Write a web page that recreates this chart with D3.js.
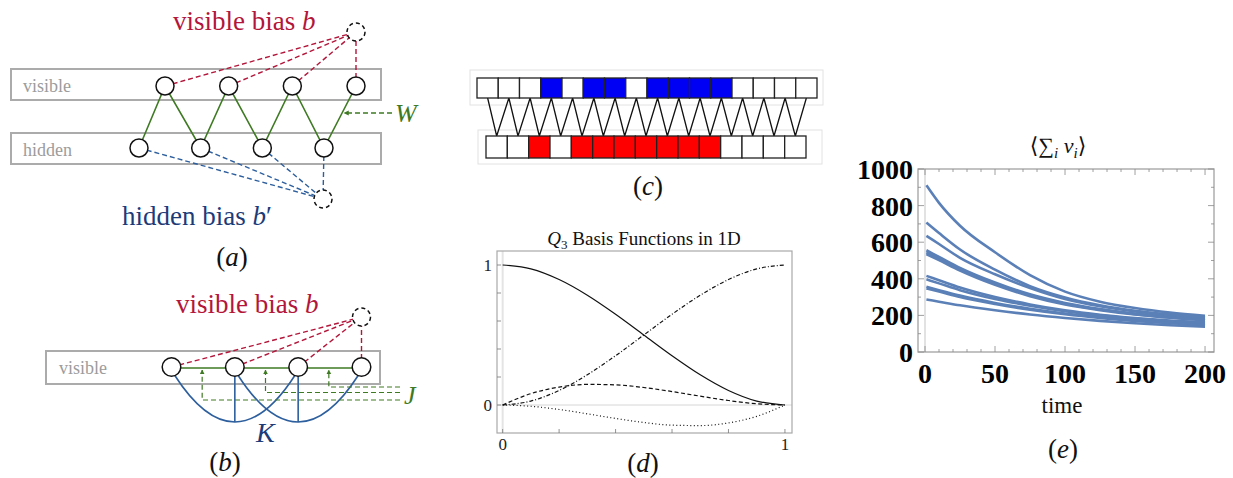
<!DOCTYPE html>
<html>
<head>
<meta charset="utf-8">
<script src="https://cdn.jsdelivr.net/npm/d3@7"></script>
<style>
body { margin: 0; background: #fff; }
svg { display: block; }
text { font-family: "Liberation Serif", "DejaVu Serif", serif; }
</style>
</head>
<body>
<svg id="fig" width="1233" height="478"></svg>
<script>
// ---- data ----
// (a) RBM: 4 visible, 4 hidden units
const rbmVisible = [0, 1, 2, 3];
const rbmHidden = [0, 1, 2, 3];
// (b) visible chain with J (neighbours) and K (next neighbours)
const chainNodes = [0, 1, 2, 3];
const jLinks = [[0, 1], [1, 2], [2, 3]];
const kLinks = [[0, 2], [1, 3]];
// (c) spin rows, 1 = occupied
const topRow = [0, 0, 0, 1, 0, 1, 1, 0, 1, 1, 1, 1, 0, 0, 0, 0];
const bottomRow = [0, 0, 1, 0, 1, 1, 1, 1, 1, 1, 1, 0, 0, 0, 0];
// (d) Q3 basis functions read at x = 0, 0.1, ... 1
const basisX = [0, 0.1, 0.2, 0.3, 0.4, 0.5, 0.6, 0.7, 0.8, 0.9, 1];
const basisSolid = [1, 0.972, 0.896, 0.784, 0.648, 0.5, 0.352, 0.216, 0.104, 0.028, 0];
const basisDashDot = [0, 0.028, 0.104, 0.216, 0.352, 0.5, 0.648, 0.784, 0.896, 0.972, 1];
const basisDashed = [0, 0.081, 0.128, 0.147, 0.144, 0.125, 0.096, 0.063, 0.032, 0.009, 0];
const basisDotted = [0, -0.009, -0.032, -0.063, -0.096, -0.125, -0.144, -0.147, -0.128, -0.081, 0];
const dTickLabels = [0, 1];
// (e) <sum v_i> vs time, 11 runs
const times = [1, 10, 25, 50, 75, 100, 125, 150, 175, 200];
const sumVRuns = [
  [911, 815, 690, 545, 420, 330, 275, 240, 215, 198],
  [707, 650, 560, 450, 360, 298, 255, 225, 205, 190],
  [635, 590, 515, 425, 350, 290, 250, 222, 202, 186],
  [556, 520, 460, 380, 315, 268, 235, 210, 192, 178],
  [545, 510, 452, 373, 310, 264, 232, 207, 189, 175],
  [535, 502, 445, 367, 305, 260, 229, 205, 187, 173],
  [416, 392, 352, 300, 260, 228, 204, 186, 172, 162],
  [397, 375, 338, 290, 253, 223, 200, 182, 168, 158],
  [356, 338, 308, 268, 236, 210, 190, 173, 160, 150],
  [347, 330, 300, 262, 231, 206, 186, 170, 157, 147],
  [287, 275, 255, 228, 205, 186, 170, 157, 146, 138]
];
const eTicksX = [0, 50, 100, 150, 200];
const eTicksY = [0, 200, 400, 600, 800, 1000];

// ---- style ----
const RED = '#b3163a';
const BLUE_TXT = '#1c3b78';
const BLUE_LN = '#2d5f9e';
const GREEN = '#3e7a22';
const GREY = '#ababab';
const CURVE = '#5b80b8';

const svg = d3.select('#fig');

svg.append('defs').append('marker')
  .attr('id', 'arr')
  .attr('viewBox', '0 0 10 10')
  .attr('refX', 9).attr('refY', 5)
  .attr('markerWidth', 4).attr('markerHeight', 4)
  .attr('orient', 'auto-start-reverse')
  .append('path')
  .attr('d', 'M0,0 L10,5 L0,10 z')
  .attr('fill', GREEN);

function caption(g, x, y, letter) {
  const t = g.append('text').attr('x', x).attr('y', y)
    .attr('text-anchor', 'middle').attr('font-size', 27).attr('fill', '#111');
  t.append('tspan').text('(');
  t.append('tspan').attr('font-style', 'italic').text(letter);
  t.append('tspan').text(')');
}

function biasLabel(g, x, y, word, color, prime) {
  const t = g.append('text').attr('x', x).attr('y', y)
    .attr('font-size', 27).attr('fill', color);
  t.append('tspan').text(word + ' bias ');
  t.append('tspan').attr('font-style', 'italic').text('b');
  if (prime) t.append('tspan').text('\u2032');
}

/* ================= (a) ================= */
const ga = svg.append('g');
const xVis = d3.scaleLinear().domain([0, 3]).range([165, 356]);
const xHid = d3.scaleLinear().domain([0, 3]).range([139, 324]);
const yLayer = d3.scaleOrdinal().domain(['vb', 'vis', 'hid', 'hb']).range([32, 86, 148, 199]);

[['vis', 'visible', 69], ['hid', 'hidden', 133]].forEach(([k, name, top]) => {
  ga.append('rect').attr('x', 11).attr('y', top).attr('width', 370).attr('height', 31)
    .attr('fill', 'none').attr('stroke', GREY).attr('stroke-width', 2);
  ga.append('text').attr('x', 23).attr('y', top + 23).attr('font-size', 18)
    .attr('fill', '#9c9c9c').text(name);
});

const vbA = [xVis(3), yLayer('vb')];
const hbA = [xHid(3) - 1, yLayer('hb')];

ga.selectAll('.rb').data(rbmVisible).join('line')
  .attr('x1', d => xVis(d)).attr('y1', yLayer('vis'))
  .attr('x2', vbA[0]).attr('y2', vbA[1])
  .attr('stroke', RED).attr('stroke-width', 1.4).attr('stroke-dasharray', '5,3');
ga.selectAll('.hbl').data(rbmHidden).join('line')
  .attr('x1', d => xHid(d)).attr('y1', yLayer('hid'))
  .attr('x2', hbA[0]).attr('y2', hbA[1])
  .attr('stroke', BLUE_LN).attr('stroke-width', 1.4).attr('stroke-dasharray', '5,3');

// zigzag weights W
const zig = [];
rbmHidden.forEach(i => {
  zig.push([xHid(i), yLayer('hid')]);
  zig.push([xVis(i), yLayer('vis')]);
});
ga.append('path').attr('d', d3.line()(zig))
  .attr('fill', 'none').attr('stroke', GREEN).attr('stroke-width', 1.6);

ga.selectAll('.vn').data(rbmVisible).join('circle')
  .attr('cx', d => xVis(d)).attr('cy', yLayer('vis')).attr('r', 9)
  .attr('fill', '#fff').attr('stroke', '#111').attr('stroke-width', 1.5);
ga.selectAll('.hn').data(rbmHidden).join('circle')
  .attr('cx', d => xHid(d)).attr('cy', yLayer('hid')).attr('r', 9)
  .attr('fill', '#fff').attr('stroke', '#111').attr('stroke-width', 1.5);
[vbA, hbA].forEach(p => ga.append('circle').attr('cx', p[0]).attr('cy', p[1]).attr('r', 9)
  .attr('fill', '#fff').attr('stroke', '#111').attr('stroke-width', 1.5).attr('stroke-dasharray', '4,3'));

// W pointer
const wY = 113;
const wX = xVis(3) + (xHid(3) - xVis(3)) * (wY - yLayer('vis')) / (yLayer('hid') - yLayer('vis'));
ga.append('line').attr('x1', 392).attr('y1', wY).attr('x2', wX + 2).attr('y2', wY)
  .attr('stroke', GREEN).attr('stroke-width', 1.3).attr('stroke-dasharray', '5,3')
  .attr('marker-end', 'url(#arr)');
ga.append('text').attr('x', 395).attr('y', wY + 9).attr('font-size', 26)
  .attr('font-style', 'italic').attr('fill', GREEN).text('W');

biasLabel(ga, 173, 30, 'visible', RED, false);
biasLabel(ga, 122, 225, 'hidden', BLUE_TXT, true);
caption(ga, 232, 266, 'a');

/* ================= (b) ================= */
const gb = svg.append('g');
const xB = d3.scaleLinear().domain([0, 3]).range([171.5, 361.5]);
const yB = 367;
const vbB = [xB(3), 317];

gb.append('rect').attr('x', 46).attr('y', 351).attr('width', 334).attr('height', 33)
  .attr('fill', 'none').attr('stroke', GREY).attr('stroke-width', 2);
gb.append('text').attr('x', 59).attr('y', 374).attr('font-size', 18)
  .attr('fill', '#9c9c9c').text('visible');

gb.selectAll('.rb').data(chainNodes).join('line')
  .attr('x1', d => xB(d)).attr('y1', yB).attr('x2', vbB[0]).attr('y2', vbB[1])
  .attr('stroke', RED).attr('stroke-width', 1.4).attr('stroke-dasharray', '5,3');

// K arcs (parabolic) and stems
kLinks.forEach(([a, b]) => {
  const x0 = xB(a) + 3, x1 = xB(b) - 3, xm = xB((a + b) / 2), yb = 422, y0 = yB + 8;
  const p = d3.path();
  p.moveTo(x0, y0);
  p.quadraticCurveTo(xm, 2 * yb - y0, x1, y0);
  gb.append('path').attr('d', p.toString()).attr('fill', 'none')
    .attr('stroke', BLUE_LN).attr('stroke-width', 1.6);
  gb.append('line').attr('x1', xm).attr('y1', yB).attr('x2', xm).attr('y2', yb)
    .attr('stroke', BLUE_LN).attr('stroke-width', 1.6);
});

// J links
jLinks.forEach(([a, b]) => {
  gb.append('line').attr('x1', xB(a)).attr('y1', yB + 1).attr('x2', xB(b)).attr('y2', yB + 1)
    .attr('stroke', GREEN).attr('stroke-width', 1.6);
});
const jDepth = [400, 392.5, 387];
jLinks.forEach(([a, b], i) => {
  const xm = (xB(a) + xB(b)) / 2 - 1;
  gb.append('path').attr('d', `M400,${jDepth[i]} H${xm} V${yB + 3}`)
    .attr('fill', 'none').attr('stroke', GREEN).attr('stroke-width', 1.2)
    .attr('stroke-dasharray', '5,3').attr('marker-end', 'url(#arr)');
});

gb.selectAll('.n').data(chainNodes).join('circle')
  .attr('cx', d => xB(d)).attr('cy', yB).attr('r', 9.3)
  .attr('fill', '#fff').attr('stroke', '#111').attr('stroke-width', 1.5);
gb.append('circle').attr('cx', vbB[0]).attr('cy', vbB[1]).attr('r', 9)
  .attr('fill', '#fff').attr('stroke', '#111').attr('stroke-width', 1.5).attr('stroke-dasharray', '4,3');

gb.append('text').attr('x', 404).attr('y', 404).attr('font-size', 26)
  .attr('font-style', 'italic').attr('fill', GREEN).text('J');
gb.append('text').attr('x', 256).attr('y', 442).attr('font-size', 28)
  .attr('font-style', 'italic').attr('fill', BLUE_TXT).text('K');
biasLabel(gb, 176, 313, 'visible', RED, false);
caption(gb, 225, 471, 'b');

/* ================= (c) ================= */
const gc = svg.append('g');
const xTop = d3.scaleBand().domain(d3.range(topRow.length)).range([477, 817]);
const xBot = d3.scaleBand().domain(d3.range(bottomRow.length)).range([486, 806]);
const topY = [78, 98], botY = [136, 158];

gc.append('rect').attr('x', 470).attr('y', 70).attr('width', 353).attr('height', 35)
  .attr('fill', 'none').attr('stroke', '#e2e2e2').attr('stroke-width', 1);
gc.append('rect').attr('x', 478).attr('y', 130).attr('width', 344).attr('height', 34)
  .attr('fill', 'none').attr('stroke', '#e2e2e2').attr('stroke-width', 1);

const cz = [];
bottomRow.forEach((_, i) => {
  cz.push([xTop(i) + xTop.bandwidth() / 2, topY[1]]);
  cz.push([xBot(i) + xBot.bandwidth() / 2, botY[0]]);
});
cz.push([xTop(topRow.length - 1) + xTop.bandwidth() / 2, topY[1]]);
gc.append('path').attr('d', d3.line()(cz)).attr('fill', 'none')
  .attr('stroke', '#111').attr('stroke-width', 1.3);

gc.selectAll('.t').data(topRow).join('rect')
  .attr('x', (d, i) => xTop(i)).attr('y', topY[0])
  .attr('width', xTop.bandwidth()).attr('height', topY[1] - topY[0])
  .attr('fill', d => d ? '#0000f5' : '#fff').attr('stroke', '#222').attr('stroke-width', 1.3);
gc.selectAll('.b').data(bottomRow).join('rect')
  .attr('x', (d, i) => xBot(i)).attr('y', botY[0])
  .attr('width', xBot.bandwidth()).attr('height', botY[1] - botY[0])
  .attr('fill', d => d ? '#ff0000' : '#fff').attr('stroke', '#222').attr('stroke-width', 1.3);
caption(gc, 648, 195, 'c');

/* ================= (d) ================= */
const gd = svg.append('g');
const xD = d3.scaleLinear().domain([-0.02, 1.025]).range([497, 792]);
const yD = d3.scaleLinear().domain([-0.2, 1.1]).range([433, 251]);

gd.append('line').attr('x1', xD(0)).attr('x2', xD(0)).attr('y1', yD(-0.2)).attr('y2', yD(1.1))
  .attr('stroke', '#e4e4e4').attr('stroke-width', 2);
gd.append('line').attr('x1', xD(-0.02)).attr('x2', xD(1.025)).attr('y1', yD(0)).attr('y2', yD(0))
  .attr('stroke', '#d6d6d6').attr('stroke-width', 1);

const basisSeries = [
  [basisSolid, null],
  [basisDashDot, '4,2,1,2'],
  [basisDashed, '4,2.5'],
  [basisDotted, '1,2.5']
];
const lineD = d3.line().x(d => xD(d[0])).y(d => yD(d[1])).curve(d3.curveMonotoneX);
basisSeries.forEach(([vals, dash]) => {
  gd.append('path').attr('d', lineD(basisX.map((x, i) => [x, vals[i]])))
    .attr('fill', 'none').attr('stroke', '#111').attr('stroke-width', 1.2)
    .attr('stroke-dasharray', dash);
});

gd.append('rect').attr('x', 497).attr('y', 251).attr('width', 295).attr('height', 182)
  .attr('fill', 'none').attr('stroke', '#a9a9a9').attr('stroke-width', 1.2);
const dTicks = [0, 0.2, 0.4, 0.6, 0.8, 1];
gd.selectAll('.ty').data(dTicks).join('line')
  .attr('x1', 497).attr('x2', 501).attr('y1', d => yD(d)).attr('y2', d => yD(d))
  .attr('stroke', '#777').attr('stroke-width', 0.8);
gd.selectAll('.tx').data(dTicks).join('line')
  .attr('x1', d => xD(d)).attr('x2', d => xD(d)).attr('y1', 433).attr('y2', 429)
  .attr('stroke', '#777').attr('stroke-width', 0.8);
gd.selectAll('.ly').data(dTickLabels).join('text')
  .attr('x', 492).attr('y', d => yD(d) + 6).attr('text-anchor', 'end')
  .attr('font-size', 17).attr('fill', '#222').text(d => d);
gd.selectAll('.lx').data(dTickLabels).join('text')
  .attr('x', d => xD(d)).attr('y', 450).attr('text-anchor', 'middle')
  .attr('font-size', 17).attr('fill', '#222').text(d => d);

const dt = gd.append('text').attr('x', 644).attr('y', 245).attr('text-anchor', 'middle')
  .attr('font-size', 19).attr('fill', '#111');
dt.append('tspan').attr('font-style', 'italic').text('Q');
dt.append('tspan').attr('font-size', 13).attr('dy', 4).text('3');
dt.append('tspan').attr('dy', -4).text(' Basis Functions in 1D');
caption(gd, 643, 472, 'd');

/* ================= (e) ================= */
const ge = svg.append('g');
const xE = d3.scaleLinear().domain([-5, 206.4]).range([918, 1214]);
const yE = d3.scaleLinear().domain([0, 1000]).range([352, 169]);

ge.append('line').attr('x1', xE(0)).attr('x2', xE(0)).attr('y1', yE(0)).attr('y2', yE(1000))
  .attr('stroke', '#e2e2e2').attr('stroke-width', 2);

const lineE = d3.line().x(d => xE(d[0])).y(d => yE(d[1])).curve(d3.curveMonotoneX);
sumVRuns.forEach(run => {
  ge.append('path').attr('d', lineE(times.map((t, i) => [t, run[i]])))
    .attr('fill', 'none').attr('stroke', CURVE).attr('stroke-width', 2.6);
});

ge.append('rect').attr('x', 918).attr('y', 169).attr('width', 296).attr('height', 183)
  .attr('fill', 'none').attr('stroke', '#a2a2a2').attr('stroke-width', 1.3);

const xMinor = d3.range(0, 201, 10);
const yMinor = d3.range(0, 1001, 100);
ge.selectAll('.xb').data(xMinor).join('line')
  .attr('x1', d => xE(d)).attr('x2', d => xE(d))
  .attr('y1', 352).attr('y2', d => d % 50 === 0 ? 346 : 349)
  .attr('stroke', '#888').attr('stroke-width', 0.8);
ge.selectAll('.xt').data(xMinor).join('line')
  .attr('x1', d => xE(d)).attr('x2', d => xE(d))
  .attr('y1', 169).attr('y2', d => d % 50 === 0 ? 175 : 172)
  .attr('stroke', '#888').attr('stroke-width', 0.8);
ge.selectAll('.yl').data(yMinor).join('line')
  .attr('x1', 918).attr('x2', d => d % 200 === 0 ? 924 : 921)
  .attr('y1', d => yE(d)).attr('y2', d => yE(d))
  .attr('stroke', '#888').attr('stroke-width', 0.8);
ge.selectAll('.yr').data(yMinor).join('line')
  .attr('x1', 1214).attr('x2', d => d % 200 === 0 ? 1208 : 1211)
  .attr('y1', d => yE(d)).attr('y2', d => yE(d))
  .attr('stroke', '#888').attr('stroke-width', 0.8);

ge.selectAll('.lyE').data(eTicksY).join('text')
  .attr('x', 913).attr('y', d => yE(d) + 10).attr('text-anchor', 'end')
  .attr('font-size', 28).attr('font-weight', 'bold').attr('fill', '#000').text(d => d);
ge.selectAll('.lxE').data(eTicksX).join('text')
  .attr('x', d => xE(d)).attr('y', 383).attr('text-anchor', 'middle')
  .attr('font-size', 28).attr('font-weight', 'bold').attr('fill', '#000').text(d => d);

ge.append('text').attr('x', 1062).attr('y', 413).attr('text-anchor', 'middle')
  .attr('font-size', 23).attr('fill', '#111').text('time');

const et = ge.append('text').attr('x', 1058).attr('y', 153).attr('text-anchor', 'middle')
  .attr('font-size', 22).attr('fill', '#111');
et.append('tspan').text('\u27E8\u2211');
et.append('tspan').attr('font-size', 15).attr('font-style', 'italic').attr('dy', 5).text('i');
et.append('tspan').attr('font-style', 'italic').attr('dy', -5).text(' v');
et.append('tspan').attr('font-size', 15).attr('font-style', 'italic').attr('dy', 5).text('i');
et.append('tspan').attr('dy', -5).text('\u27E9');
caption(ge, 1063, 458, 'e');
</script>
</body>
</html>
